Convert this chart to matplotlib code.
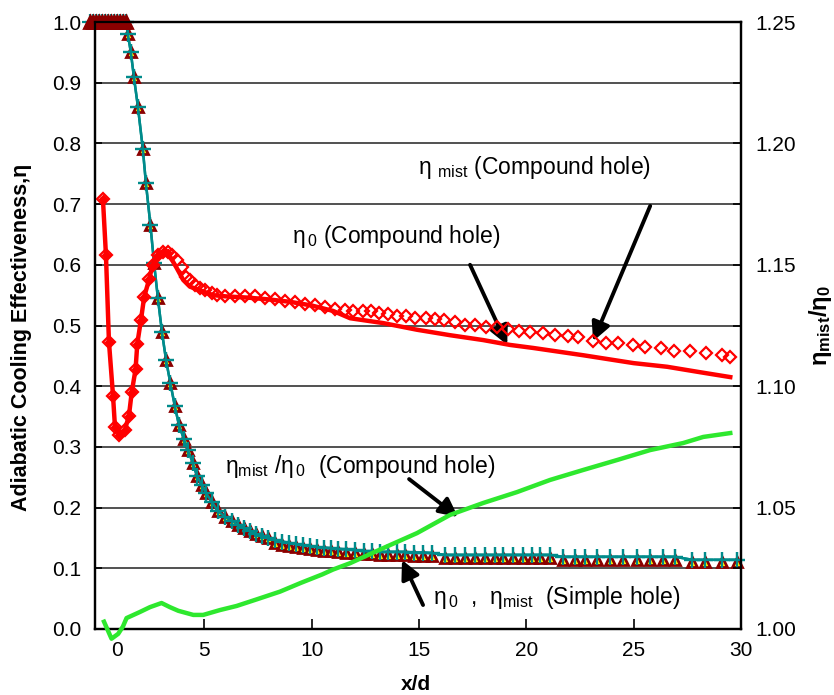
import matplotlib
matplotlib.use('Agg')
import matplotlib.pyplot as plt
from matplotlib.ticker import FixedLocator, MultipleLocator, FormatStrFormatter

plt.rcParams['font.family'] = ['Liberation Sans', 'DejaVu Sans']
plt.rcParams['mathtext.fontset'] = 'custom'
plt.rcParams['mathtext.rm'] = 'Liberation Sans'
plt.rcParams['mathtext.it'] = 'Liberation Sans:italic'
plt.rcParams['mathtext.bf'] = 'Liberation Sans:bold'

# ---- simple hole: eta_0 (triangles) and eta_mist (crosses) ----
simple_x = [-0.33, -0.19, -0.05, 0.09, 0.23, 0.37, 0.51, 0.65, 0.79, 0.93, 1.07, 1.21, 1.35,
            1.44, 1.58, 1.72, 1.91, 2.14, 2.28, 2.49, 2.66, 2.84, 3.03,
            3.22, 3.42, 3.63, 3.82, 4.05, 4.24, 4.47, 4.66, 4.89, 5.08,
            5.36, 5.64, 5.96, 6.29, 6.57, 6.85, 7.13, 7.41, 7.69, 7.97,
            8.29, 8.62, 8.95, 9.27, 9.60, 9.93, 10.25, 10.58, 10.90, 11.23,
            11.60, 12.02, 12.44, 12.81, 13.19, 13.56, 13.98, 14.35, 14.77, 15.19, 15.61,
            16.22, 16.68, 17.15, 17.61, 18.08, 18.55, 18.92, 19.38, 19.85, 20.27, 20.64, 21.11,
            21.71, 22.27, 22.74, 23.30, 23.90, 24.51, 25.16, 25.77, 26.37, 26.93,
            27.73, 28.33, 29.12, 29.82]
simple_eta_mist = [1.0, 1.0, 1.0, 1.0, 1.0, 1.0, 1.0, 1.0, 1.0, 1.0, 1.0, 1.0, 1.0,
                   0.98, 0.95, 0.91, 0.86, 0.79, 0.735, 0.666, 0.603, 0.545, 0.489,
                   0.443, 0.405, 0.367, 0.336, 0.313, 0.295, 0.273, 0.252, 0.237, 0.224,
                   0.209, 0.194, 0.185, 0.178, 0.172, 0.166, 0.161, 0.157, 0.153, 0.150,
                   0.147, 0.144, 0.142, 0.140, 0.138, 0.137, 0.135, 0.134, 0.133, 0.132,
                   0.131, 0.130, 0.128, 0.128, 0.127, 0.127, 0.127, 0.127, 0.126, 0.126, 0.125,
                   0.122, 0.122, 0.122, 0.122, 0.122, 0.122, 0.122, 0.122, 0.122, 0.122, 0.122, 0.122,
                   0.119, 0.119, 0.119, 0.119, 0.119, 0.119, 0.119, 0.119, 0.119, 0.119,
                   0.114, 0.114, 0.114, 0.114]
simple_eta0 = [1.0, 1.0, 1.0, 1.0, 1.0, 1.0, 1.0, 1.0, 1.0, 1.0, 1.0, 1.0, 1.0,
               0.98, 0.95, 0.91, 0.86, 0.79, 0.735, 0.666, 0.603, 0.545, 0.489,
               0.443, 0.405, 0.367, 0.336, 0.313, 0.295, 0.273, 0.252, 0.237, 0.224,
               0.209, 0.194, 0.185, 0.178, 0.172, 0.166, 0.161, 0.157, 0.153, 0.150,
               0.142, 0.139, 0.137, 0.135, 0.133, 0.132, 0.130, 0.129, 0.128, 0.127,
               0.126, 0.125, 0.123, 0.123, 0.122, 0.122, 0.122, 0.122, 0.121, 0.121, 0.120,
               0.117, 0.117, 0.117, 0.117, 0.117, 0.117, 0.117, 0.117, 0.117, 0.117, 0.117, 0.117,
               0.114, 0.114, 0.114, 0.114, 0.114, 0.114, 0.114, 0.114, 0.114, 0.114,
               0.110, 0.110, 0.110, 0.110]
n_plateau = 13

# ---- compound hole: eta_0 (solid line) ----
comp_x0 = [0.28, 0.42, 0.56, 0.75, 0.84, 1.04, 1.30, 1.49, 1.62, 1.80, 1.88, 2.05, 2.20, 2.44,
           2.59, 2.86, 3.09, 3.32, 3.71, 4.02, 4.33, 4.80, 5.41, 6.0, 7.0, 8.0, 9.0, 10.0, 11.0,
           11.79, 13.33, 14.91, 16.45, 17.99, 19.24, 20.32, 22.65, 25.0, 26.56, 28.1, 29.5]
comp_eta0 = [0.708, 0.616, 0.473, 0.384, 0.333, 0.320, 0.328, 0.351, 0.390, 0.428, 0.470, 0.509,
             0.547, 0.577, 0.600, 0.616, 0.621, 0.619, 0.595, 0.575, 0.564, 0.558, 0.550, 0.548,
             0.546, 0.543, 0.539, 0.533, 0.524, 0.512, 0.504, 0.493, 0.484, 0.476, 0.468, 0.463,
             0.451, 0.438, 0.432, 0.423, 0.415]
n_marked = 18

# ---- compound hole: eta_mist (open diamonds) ----
comp_xm = [0.28, 0.42, 0.56, 0.75, 0.84, 1.04, 1.30, 1.49, 1.62, 1.80, 1.88, 2.05, 2.20, 2.44,
           2.59, 2.86, 3.09, 3.32, 3.50, 3.73, 3.96, 4.15, 4.33, 4.57, 4.80, 5.03, 5.36, 5.59,
           5.96, 6.43, 6.90, 7.36, 7.83, 8.29, 8.76, 9.23, 9.69, 10.16, 10.62, 11.09, 11.56,
           11.93, 12.40, 12.77, 13.14, 13.56, 13.98, 14.40, 14.82, 15.33, 15.75, 16.17, 16.68,
           17.15, 17.61, 18.13, 18.64, 19.15, 19.66, 20.18, 20.78, 21.34, 21.95, 22.41, 23.11,
           23.72, 24.28, 24.98, 25.54, 26.28, 26.89, 27.63, 28.38, 29.12, 29.50]
comp_eta_mist = [0.708, 0.616, 0.473, 0.384, 0.333, 0.320, 0.328, 0.351, 0.390, 0.428, 0.470,
                 0.509, 0.547, 0.577, 0.600, 0.616, 0.621, 0.621, 0.616, 0.608, 0.596, 0.580,
                 0.575, 0.567, 0.562, 0.558, 0.553, 0.550,
                 0.549, 0.549, 0.549, 0.548, 0.546, 0.543, 0.541, 0.539, 0.536, 0.533, 0.531,
                 0.528, 0.526,
                 0.524, 0.524, 0.524, 0.520, 0.519, 0.516, 0.516, 0.512, 0.512, 0.511, 0.509,
                 0.506, 0.501, 0.501, 0.498, 0.498, 0.494, 0.491, 0.489, 0.488, 0.484, 0.483,
                 0.481, 0.474, 0.471, 0.471, 0.468, 0.465, 0.463, 0.458, 0.458, 0.455, 0.451,
                 0.448]

# ---- compound hole: eta_mist / eta_0 (right axis) ----
ratio_x = [0.33, 0.68, 0.99, 1.21, 1.38, 2.0, 2.47, 3.01, 3.4, 3.79, 4.49, 4.95, 5.73, 6.51,
           7.44, 8.53, 9.5, 10.5, 11.0, 11.79, 13.33, 14.91, 16.45, 17.99, 19.57, 21.11, 22.65,
           24.23, 25.77, 27.31, 28.24, 29.5]
ratio = [1.003, 0.996, 0.998, 1.001, 1.0045, 1.007, 1.009, 1.0107, 1.009, 1.0075, 1.0058,
         1.0058, 1.0078, 1.0095, 1.0122, 1.0154, 1.019, 1.0225, 1.0245, 1.0271, 1.0333, 1.0395,
         1.0470, 1.0519, 1.0564, 1.0614, 1.0655, 1.0696, 1.0737, 1.0766, 1.0791, 1.0807]

left_ticks = [0.0, 0.1, 0.2, 0.3, 0.4, 0.5, 0.6, 0.7, 0.8, 0.9, 1.0]
right_ticks = [1.00, 1.05, 1.10, 1.15, 1.20, 1.25]
x_ticks = [5, 10, 15, 20, 25, 30]
x_zero_label_pos = 0.93

RED = '#ff0000'
TEAL = '#008b8b'
DARKRED = '#8b0000'
GREEN = '#2ee82e'
TXT = 16.5

fig = plt.figure(figsize=(8.34, 6.95), dpi=100)
ax = fig.add_axes([95 / 834, 66 / 695, 646 / 834, 607 / 695])
ax2 = ax.twinx()

ax.set_xlim(-0.09, 30)
ax.set_ylim(0, 1)
ax2.set_ylim(1.0, 1.25)

# horizontal grid
ax.set_axisbelow(True)
ax.yaxis.grid(True, color='#222222', lw=1.1)

# simple hole
ax.plot(simple_x, simple_eta_mist, color=TEAL, lw=1.8, marker='+', ms=11, mew=1.6,
        clip_on=False, zorder=3)
ax.plot(simple_x, simple_eta0, linestyle='none', marker='^', ms=7.5, mfc='#ffff00',
        mec=DARKRED, mew=2.0, clip_on=False, zorder=3.5)
# the overlapping triangles at the inlet form a solid band
ax.plot(simple_x[:n_plateau], simple_eta0[:n_plateau], linestyle='none', marker='^', ms=8.5,
        mfc=DARKRED, mec=DARKRED, mew=2.0, clip_on=False, zorder=4.5)
ax.plot(simple_x[n_plateau - 1:], simple_eta_mist[n_plateau - 1:], color=TEAL, lw=1.8,
        marker='+', ms=11, mew=1.6, clip_on=False, zorder=4)

# compound hole
ax.plot(comp_x0, comp_eta0, color=RED, lw=3.2, marker='D', ms=4.5, mfc=RED, mec=RED,
        markevery=list(range(n_marked)), zorder=5)
ax.plot(comp_xm, comp_eta_mist, linestyle='none', marker='D', ms=6, mfc='none', mec=RED,
        mew=1.6, zorder=6)

ax2.plot(ratio_x, ratio, color=GREEN, lw=3.2, clip_on=False, zorder=5)

# axes styling
for a in (ax, ax2):
    for s in a.spines.values():
        s.set_linewidth(1.6)
        s.set_color('black')

ax.yaxis.set_major_locator(FixedLocator(left_ticks))
ax.yaxis.set_major_formatter(FormatStrFormatter('%.1f'))
ax.tick_params(axis='y', direction='in', length=5, width=1.2, labelsize=15, pad=10)

ax.set_xticks([x_zero_label_pos] + x_ticks, ['0'] + [str(t) for t in x_ticks])
ax.tick_params(axis='x', direction='in', length=7, width=1.2, labelsize=15, pad=9)
ax.xaxis.get_major_ticks()[0].tick1line.set_visible(False)
ax.xaxis.get_major_ticks()[-1].tick1line.set_visible(False)

ax2.yaxis.set_major_locator(FixedLocator(right_ticks))
ax2.yaxis.set_minor_locator(MultipleLocator(0.025))
ax2.yaxis.set_major_formatter(FormatStrFormatter('%.2f'))
ax2.tick_params(axis='y', which='both', direction='in', length=6, width=1.2, labelsize=15, pad=10)

# axis titles
fig.text(22 / 834, 1 - 337 / 695, 'Adiabatic Cooling Effectiveness,η', rotation=90,
         ha='center', va='center', fontsize=15.5, fontweight='bold')
fig.text(821 / 834, 1 - 325 / 695, r'η$_{\mathbf{mist}}$/η$_{\mathbf{0}}$', rotation=90,
         ha='center', va='center', fontsize=17, fontweight='bold')
fig.text(416 / 834, 1 - 685 / 695, 'x/d', ha='center', va='center', fontsize=15,
         fontweight='bold')

# annotations
arrow = dict(arrowstyle='-|>', color='black', lw=2.8, mutation_scale=28,
             shrinkA=0, shrinkB=0)
ax.text(14.96, 0.761, r'η $_{\mathrm{mist}}$ (Compound hole)', fontsize=TXT, va='center')
ax.annotate('', xy=(23.11, 0.474), xytext=(25.77, 0.697), arrowprops=arrow)

ax.text(9.09, 0.646, r'η$_{\,\mathrm{0}}$ (Compound hole)', fontsize=TXT, va='center')
ax.annotate('', xy=(19.11, 0.468), xytext=(17.38, 0.600), arrowprops=arrow)

ax.text(5.96, 0.267, r'η$_{\mathrm{mist}}$ /η$_{\,\mathrm{0}}$  (Compound hole)', fontsize=TXT,
        va='center')
ax.annotate('', xy=(16.82, 0.1845), xytext=(14.54, 0.247), arrowprops=arrow)

ax.text(15.66, 0.0527, r'η$_{\,\mathrm{0}}$  ,  η$_{\mathrm{mist}}$  (Simple hole)', fontsize=TXT,
        va='center')
ax.annotate('', xy=(14.21, 0.1137), xytext=(15.19, 0.0395), arrowprops=arrow)

fig.savefig('out.png', dpi=100)
